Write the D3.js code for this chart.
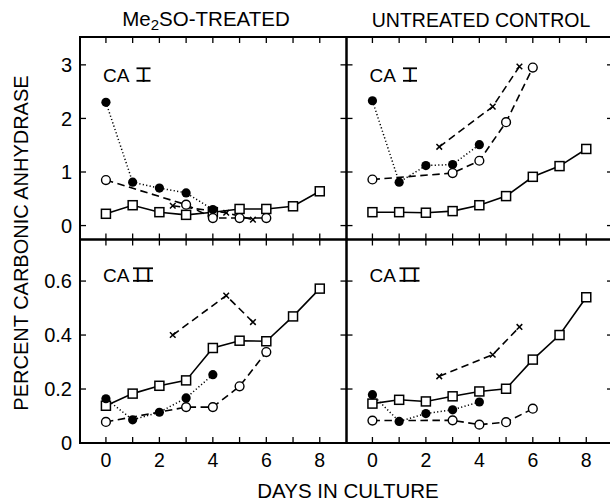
<!DOCTYPE html>
<html><head><meta charset="utf-8">
<script src="https://cdn.jsdelivr.net/npm/d3@7"></script>
<style>
body{margin:0;background:#fff;}
text{font-family:"Liberation Sans",Arial,sans-serif;fill:#000;}
</style></head>
<body><svg id="c" width="610" height="502"></svg>
<script>
// ---- data ----
const days = [0,1,2,3,4,5,6,7,8];
const filledDays = [0,1,2,3,4];
const openDays = [0,3,4,5,6];
const xDays = [2.5,4.5,5.5];
const xTickLabels = [0,2,4,6,8];
const yTicksTop = [0,1,2,3];
const yTicksBottom = [0.2,0.4,0.6];
const yTickLabelsBottom = ["0","0.2","0.4","0.6"];

const meCA1_filled = [2.30,0.81,0.70,0.61,0.30];
const meCA1_open   = [0.85,0.39,0.14,0.14,0.14];
const meCA1_x      = [0.37,0.24,0.11];
const meCA1_sq     = [0.22,0.38,0.25,0.20,0.25,0.31,0.31,0.36,0.64];

const ctCA1_filled = [2.33,0.81,1.12,1.14,1.51];
const ctCA1_open   = [0.86,0.98,1.21,1.93,2.95];
const ctCA1_x      = [1.47,2.22,2.97];
const ctCA1_sq     = [0.25,0.25,0.24,0.27,0.38,0.55,0.91,1.11,1.43];

const meCA2_filled = [0.164,0.086,0.114,0.167,0.253];
const meCA2_open   = [0.078,0.133,0.133,0.21,0.337];
const meCA2_x      = [0.40,0.546,0.448];
const meCA2_sq     = [0.138,0.183,0.212,0.232,0.352,0.379,0.377,0.469,0.572];

const ctCA2_filled = [0.179,0.080,0.109,0.123,0.152];
const ctCA2_open   = [0.083,0.084,0.068,0.077,0.127];
const ctCA2_x      = [0.247,0.327,0.43];
const ctCA2_sq     = [0.146,0.16,0.154,0.173,0.191,0.201,0.309,0.40,0.54];

// ---- layout ----
const svg = d3.select("#c");
const X0 = 80, XM = 346.5, X1 = 613;
const YT = 37, YM = 239.5, YB = 443;
const xL = d3.scaleLinear().domain([-0.97,9.0]).range([X0,XM]);
const xR = d3.scaleLinear().domain([-0.97,9.0]).range([XM,X1]);
const yTop = d3.scaleLinear().domain([-0.26,3.52]).range([YM,YT]);
const yBot = d3.scaleLinear().domain([0,0.754]).range([YB,YM]);

const panels = [
  {x:xL, y:yTop, f:meCA1_filled, o:meCA1_open, xx:meCA1_x, s:meCA1_sq, label:"I", yt:yTicksTop},
  {x:xR, y:yTop, f:ctCA1_filled, o:ctCA1_open, xx:ctCA1_x, s:ctCA1_sq, label:"I", yt:yTicksTop},
  {x:xL, y:yBot, f:meCA2_filled, o:meCA2_open, xx:meCA2_x, s:meCA2_sq, label:"II", yt:yTicksBottom},
  {x:xR, y:yBot, f:ctCA2_filled, o:ctCA2_open, xx:ctCA2_x, s:ctCA2_sq, label:"II", yt:yTicksBottom},
];

const TL = 6;
panels.forEach((p,i)=>{
  const g = svg.append("g");
  const [xa,xb] = p.x.range(); const [ya,yb] = p.y.range();
  const tk = g.append("g").attr("stroke","#000").attr("stroke-width",1.3);
  days.forEach(d=>{
    tk.append("line").attr("x1",p.x(d)).attr("x2",p.x(d)).attr("y1",yb).attr("y2",yb+TL);
    tk.append("line").attr("x1",p.x(d)).attr("x2",p.x(d)).attr("y1",ya).attr("y2",ya-TL);
  });
  p.yt.forEach(v=>{
    tk.append("line").attr("x1",xa).attr("x2",xa+TL).attr("y1",p.y(v)).attr("y2",p.y(v));
    tk.append("line").attr("x1",xb).attr("x2",xb-TL).attr("y1",p.y(v)).attr("y2",p.y(v));
  });
  g.append("rect").attr("x",xa).attr("y",yb).attr("width",xb-xa).attr("height",ya-yb)
    .attr("fill","none").attr("stroke","#000").attr("stroke-width",2);

  const line = d3.line().x(d=>p.x(d[0])).y(d=>p.y(d[1]));
  const sq = days.map((d,k)=>[d,p.s[k]]);
  const fl = filledDays.map((d,k)=>[d,p.f[k]]);
  const op = openDays.map((d,k)=>[d,p.o[k]]);
  const xs = xDays.map((d,k)=>[d,p.xx[k]]);
  g.append("path").attr("d",line(sq)).attr("fill","none").attr("stroke","#000").attr("stroke-width",1.6);
  g.append("path").attr("d",line(fl)).attr("fill","none").attr("stroke","#000").attr("stroke-width",1.5).attr("stroke-dasharray","1.2,2.3");
  g.append("path").attr("d",line(op)).attr("fill","none").attr("stroke","#000").attr("stroke-width",1.6).attr("stroke-dasharray","7.5,4.5");
  g.append("path").attr("d",line(xs)).attr("fill","none").attr("stroke","#000").attr("stroke-width",1.6).attr("stroke-dasharray","7.5,4.5");

  g.selectAll(".sq").data(sq).join("rect").attr("x",d=>p.x(d[0])-4.5).attr("y",d=>p.y(d[1])-4.5)
    .attr("width",9).attr("height",9).attr("fill","#fff").attr("stroke","#000").attr("stroke-width",1.5);
  g.selectAll(".fl").data(fl).join("circle").attr("cx",d=>p.x(d[0])).attr("cy",d=>p.y(d[1])).attr("r",4.6).attr("fill","#000");
  g.selectAll(".op").data(op).join("circle").attr("cx",d=>p.x(d[0])).attr("cy",d=>p.y(d[1])).attr("r",4.4)
    .attr("fill","#fff").attr("stroke","#000").attr("stroke-width",1.4);
  g.selectAll(".xm").data(xs).join("path")
    .attr("d",d=>{const cx=p.x(d[0]), cy=p.y(d[1]), r=2.8;
      return `M${cx-r},${cy-r}L${cx+r},${cy+r}M${cx+r},${cy-r}L${cx-r},${cy+r}`;})
    .attr("stroke","#000").attr("stroke-width",1.5).attr("fill","none");

  // panel label: "CA" + roman numeral with serif bars
  const base = yb + (i<2 ? 44.7 : 42.2);
  g.append("text").attr("x",xa+23).attr("y",base).attr("font-size",19).text("CA");
  const two = p.label === "II";
  const cx = xa + (two ? 63 : 63.5);
  g.append("text").attr("x",cx).attr("y",base).attr("text-anchor","middle").attr("font-size",20)
    .attr("letter-spacing",two?5:0).attr("dx",two?2.5:0).text(p.label);
  const bw = two ? 20 : 14;
  const capH = 14.3;
  g.append("line").attr("x1",cx-bw/2).attr("x2",cx+bw/2).attr("y1",base-capH+0.9).attr("y2",base-capH+0.9).attr("stroke","#000").attr("stroke-width",1.8);
  g.append("line").attr("x1",cx-bw/2).attr("x2",cx+bw/2).attr("y1",base-0.9).attr("y2",base-0.9).attr("stroke","#000").attr("stroke-width",1.8);
});

// y tick labels
yTicksTop.forEach(v=>{
  svg.append("text").attr("x",72).attr("y",yTop(v)).attr("dy","0.36em").attr("text-anchor","end").attr("font-size",20).text(v);
});
[0,0.2,0.4,0.6].forEach((v,k)=>{
  svg.append("text").attr("x",72).attr("y",yBot(v)).attr("dy","0.36em").attr("text-anchor","end").attr("font-size",20).text(yTickLabelsBottom[k]);
});
// x tick labels
[xL,xR].forEach(sc=>{
  xTickLabels.forEach(d=>{
    svg.append("text").attr("x",sc(d)).attr("y",467).attr("text-anchor","middle").attr("font-size",19.5).text(d);
  });
});

// titles
const t1 = svg.append("text").attr("x",206).attr("y",26).attr("text-anchor","middle").attr("font-size",20.5);
t1.append("tspan").text("Me");
t1.append("tspan").attr("font-size",15).attr("dy",4).text("2");
t1.append("tspan").attr("dy",-4).text("SO-TREATED");
svg.append("text").attr("x",481).attr("y",26.5).attr("text-anchor","middle").attr("font-size",19.5).text("UNTREATED CONTROL");
svg.append("text").attr("x",348).attr("y",498).attr("text-anchor","middle").attr("font-size",20.5).text("DAYS IN CULTURE");
svg.append("text").attr("transform","translate(28,243) rotate(-90)").attr("text-anchor","middle").attr("font-size",20).text("PERCENT CARBONIC ANHYDRASE");
</script></body></html>
